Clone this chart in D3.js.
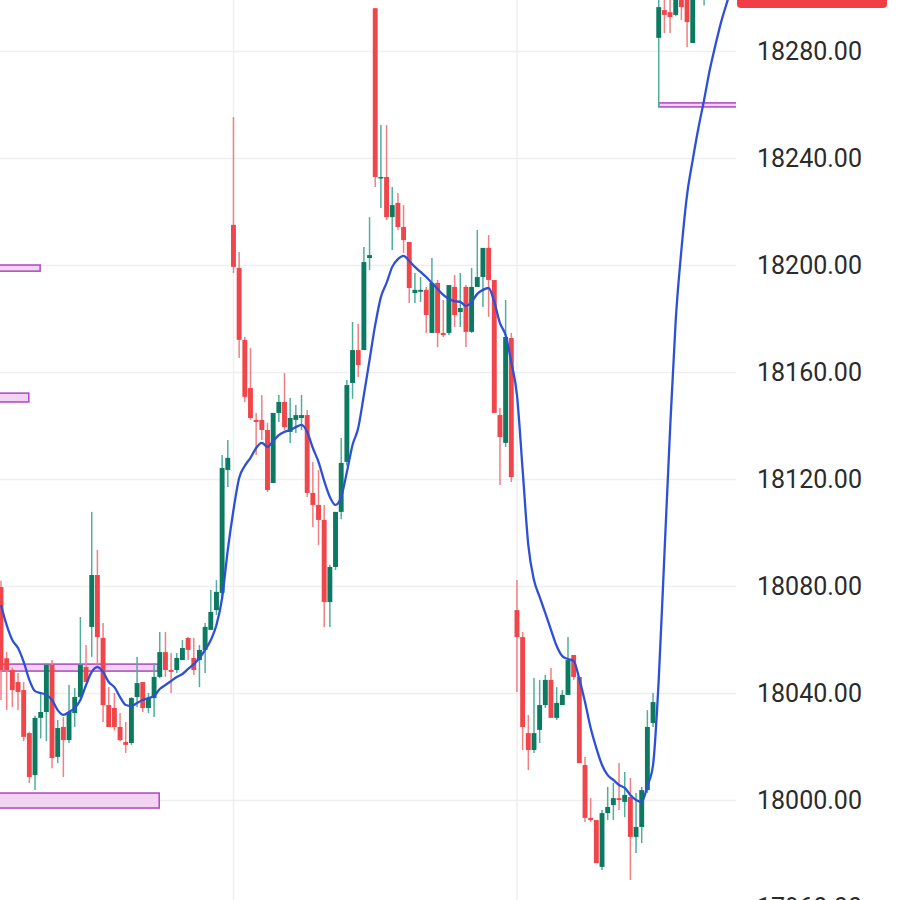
<!DOCTYPE html>
<html>
<head>
<meta charset="utf-8">
<script src="https://cdn.jsdelivr.net/npm/d3@7/dist/d3.min.js"></script>
<style>
  html, body { margin: 0; padding: 0; background: #ffffff; }
  svg { display: block; }
</style>
</head>
<body>
<div id="chart"></div>
<script>
// ---------- DATA ----------
const opens  = [18079.6,18053,18048.6,18044.1,18041.1,18025,18009.3,18030.7,18032.9,18050.5,18016.1,18027.3,18022.4,18032.5,18038.5,18049.7,18064.7,18084.1,18060.6,18035.5,18034.4,18027.3,18021.7,18021.3,18038.5,18044.1,18034.4,18038.1,18046,18055.3,18048.6,18048.6,18052.3,18060.6,18053.1,18052.3,18056.1,18063.6,18071,18077.4,18123.4,18215,18198.9,18172,18154,18142.1,18142.1,18138.3,18118.5,18144.7,18148.8,18137.6,18142.1,18142.8,18143.9,18114.8,18110.3,18104.7,18074,18087.1,18107.7,18126.4,18155.9,18168.2,18168.2,18202.6,18296,18232.5,18232.9,18217.9,18223.2,18214.2,18208.6,18189.5,18190,18190.7,18174.6,18193.3,18174.6,18174.6,18191.8,18182.4,18191.8,18175,18191.8,18195.5,18206.4,18194.4,18143.9,18133.5,18172.7,18071,18060.9,18025,18018.7,18026.2,18035.5,18044.9,18030.7,18035.5,18039.3,18054.2,18046,18013.1,17993.3,17992.5,17975,17995.1,17998.1,18000.7,17999.3,18001.1,17986.2,17989.9,18003.7,18028.8,18284.9,18295.3,18294.5,18293.5,18302,18302,18283,18305,18302,18308,18310,18312];
const highs  = [18082,18055.3,18049.5,18047.5,18044.1,18025.5,18031.5,18040,18051,18052.3,18029.9,18031,18043,18041.9,18068.4,18057.9,18107.7,18093.5,18066.2,18042.2,18040,18032.5,18029.2,18038.5,18053.5,18044.1,18040,18051.2,18062.8,18062.8,18055,18055,18059.8,18060.9,18060.6,18057.9,18066.2,18078.5,18082.2,18129,18134.6,18255.3,18204.9,18173.1,18169,18144.7,18151.4,18141,18144.7,18151.4,18159.6,18150.3,18147.7,18151.4,18145.8,18126.4,18123.4,18110.3,18087.9,18107.7,18135.3,18157,18178.7,18178,18206.7,18217.9,18296,18252.3,18252.3,18229.2,18226.9,18222.4,18208.6,18197,18195.5,18191.8,18202.6,18194.4,18186.9,18192.5,18196.3,18197,18192.5,18198.9,18213.1,18206.4,18211.2,18194.4,18146.5,18186.9,18174.6,18082.2,18062.8,18031.8,18045.6,18044.9,18046.7,18049.3,18042.2,18041.1,18060.9,18054.2,18046,18016.1,18000.7,17992.5,17996.3,18004.9,18006.4,18013.8,18010.5,18008.2,18002.6,18004.9,18033.6,18040,18300,18300,18300,18303,18305,18305,18305,18310,18310,18314,18316,18318];
const lows   = [18037.4,18033.6,18034.8,18033.6,18022,18006.4,18003.7,18023,18022,18011.9,18013.8,18008.6,18021.3,18027.3,18037.4,18044.1,18053.5,18049.7,18029.2,18027.3,18026,18022,18017.6,18020.6,18034.8,18032.9,18032.5,18031,18045.5,18046,18040,18047.5,18052.3,18052.3,18046.7,18042.2,18047.5,18063.6,18069.2,18074.8,18117,18197,18165.2,18148.8,18142.1,18129,18134.6,18115.1,18118.5,18141.3,18138.3,18133.5,18137.2,18138.3,18113.3,18102.1,18095.3,18064.7,18064.7,18086,18105,18125,18150,18158,18168.2,18198.1,18229.2,18221.3,18216.8,18205.6,18213.1,18204.5,18185.8,18185.8,18186.2,18174.6,18174.6,18169.3,18173.1,18173.8,18176.8,18176.8,18169.3,18174.6,18191.8,18184.3,18180.6,18144.7,18117.8,18132,18118.9,18040.4,18018.7,18011.2,18017.6,18021.3,18034.4,18030.7,18029.9,18035.5,18039.3,18044.9,18013.8,17991.8,17991.8,17976.4,17973.8,17992.5,17992.5,17996.3,17993.6,17970.1,17980.2,17983.9,18002.6,18027.3,18259.1,18286.7,18286.7,18293,18291.6,18281.5,18283,18302,18297,18305,18306,18308];
const closes = [18048.6,18048.6,18041.1,18040.4,18023.6,18008.6,18030.7,18032.9,18050.5,18015.7,18026.9,18022.4,18032.9,18038.5,18050.5,18044.1,18084.1,18060.9,18035.5,18027.3,18027.3,18022.4,18020.6,18038.1,18043.7,18034.4,18038.1,18046,18055.3,18048.6,18047.9,18053.1,18056.8,18056.1,18048.6,18056.1,18064.7,18070.3,18077.8,18124.1,18127.9,18199.3,18172,18150.7,18142.8,18141.3,18138.3,18115.9,18144.7,18148.8,18139.4,18142.8,18143.9,18143.9,18114.8,18110.3,18104.7,18074,18087.1,18107.7,18126,18155.1,18168.2,18162.6,18201.1,18203.7,18232.9,18232.9,18217.9,18222.4,18214.2,18209.3,18191.4,18190.7,18190.7,18181.3,18193.3,18174.6,18173.8,18192.5,18181.3,18183.9,18175,18191.8,18195.5,18206.4,18194.4,18144.7,18135.7,18173.1,18120.7,18060.9,18027.3,18018.7,18025,18035.5,18044.9,18030.7,18036.3,18039.3,18052.3,18046,18013.8,17993.3,17992.5,17976.4,17995.1,17997.4,18000.7,18000,18001.9,17986.2,17989.9,18003.7,18027.3,18036.6,18296.4,18293.5,18292.7,18301,18296.4,18290.8,18302,18308,18308,18310,18312,18314];
const maValues = [18072.9,18065.4,18059.8,18056.8,18051.6,18044.9,18040.7,18040,18039.3,18037.4,18033.6,18031.8,18032.9,18034.4,18037.4,18043,18047.9,18049.7,18047.9,18044.1,18042.2,18038.5,18035.5,18035.1,18036.3,18037.4,18038.1,18038.9,18041.5,18043,18044.5,18046,18047.1,18049,18050.8,18053.1,18056.1,18059.8,18065.4,18075.5,18093.5,18108.4,18120.4,18124.9,18127.9,18131.6,18133.5,18132,18134.2,18136.4,18137.6,18138.3,18139.4,18140.2,18137.6,18131.6,18126.4,18119.3,18113.3,18110.3,18113.3,18122.6,18132.7,18139.1,18151.4,18164.5,18177.6,18188,18193.3,18199.3,18202.2,18203.4,18201.5,18199.3,18197.4,18195.5,18193.3,18191,18188.8,18187.3,18186.5,18186.2,18184.7,18186.2,18189.2,18190.7,18191.4,18186.2,18178.3,18173.8,18163.7,18151.4,18123.4,18095.3,18082.2,18075.9,18069.9,18063.6,18057.6,18053.8,18052.7,18052,18045.2,18036.6,18026.9,18019.4,18013.1,18009.3,18007.5,18005.6,18004.5,18001.9,18000,17999.3,18005.2,18013.1,18044.9,18091.6,18138.3,18179.4,18205.6,18226.2,18239.3,18251.2,18261.7,18272.9,18282.2,18290.8,18297.9,18304.7];
const tickValues = [17960, 18000, 18040, 18080, 18120, 18160, 18200, 18240, 18280];
const sessionStarts = [41, 91];
// zones: [fromIndex, toIndex, upperPrice, lowerPrice]
const zoneFrom  = [-1, -1, -1, -1, 116];
const zoneTo    = [6.9, 4.9, 27.7, 27.9, 130];
const zoneHigh  = [18200.0, 18152.1, 18050.8, 18002.6, 18260.6];
const zoneLow   = [18197.7, 18148.8, 18048.2, 17997.0, 18259.1];

// ---------- LAYOUT ----------
const W = 900, H = 900;
const plotRight = 736;
const svg = d3.select("#chart").append("svg").attr("width", W).attr("height", H);

const x = d3.scaleLinear().domain([0, 129]).range([1, 1 + 129 * 5.67]);
const y = d3.scaleLinear().domain([18000, 18280]).range([800, 51]);

svg.append("defs").append("clipPath").attr("id", "plotclip")
  .append("rect").attr("x", 0).attr("y", 0).attr("width", plotRight).attr("height", H);

// grid
const grid = svg.append("g");
grid.selectAll("line.h").data(tickValues).enter().append("line")
  .attr("x1", 0).attr("x2", plotRight)
  .attr("y1", d => Math.round(y(d)) + 0.5).attr("y2", d => Math.round(y(d)) + 0.5)
  .attr("stroke", "#efefef").attr("stroke-width", 1.5);
grid.selectAll("line.v").data(sessionStarts).enter().append("line")
  .attr("x1", d => x(d)).attr("x2", d => x(d))
  .attr("y1", 0).attr("y2", H)
  .attr("stroke", "#efefef").attr("stroke-width", 1.5);

const plot = svg.append("g").attr("clip-path", "url(#plotclip)");

// zones
const zones = zoneFrom.map((f, i) => ({ f, t: zoneTo[i], hi: zoneHigh[i], lo: zoneLow[i] }));
plot.selectAll("rect.zone").data(zones).enter().append("rect")
  .attr("x", d => x(d.f)).attr("width", d => x(d.t) - x(d.f))
  .attr("y", d => y(d.hi)).attr("height", d => Math.max(2, y(d.lo) - y(d.hi)))
  .attr("fill", "#f3d3f4").attr("stroke", "#b24fc6").attr("stroke-width", 1.6);

// candles
const candles = opens.map((o, i) => ({ i, o, h: highs[i], l: lows[i], c: closes[i] }));
const up = d => d.c >= d.o;
const g = plot.append("g");
g.selectAll("line.wick").data(candles).enter().append("line")
  .attr("x1", d => x(d.i)).attr("x2", d => x(d.i))
  .attr("y1", d => y(d.h)).attr("y2", d => y(d.l))
  .attr("stroke", d => up(d) ? "#4fae9c" : "#f27f83").attr("stroke-width", 1.5);
const bw = 4.9;
g.selectAll("rect.body").data(candles).enter().append("rect")
  .attr("x", d => x(d.i) - bw / 2).attr("width", bw)
  .attr("y", d => y(Math.max(d.o, d.c)))
  .attr("height", d => Math.max(1.5, Math.abs(y(d.o) - y(d.c))))
  .attr("fill", d => up(d) ? "#0c7a61" : "#f0464b");

// moving average
const line = d3.line().x((d, i) => x(i)).y(d => y(d)).curve(d3.curveMonotoneX);
plot.append("path").datum(maValues)
  .attr("d", line).attr("fill", "none")
  .attr("stroke", "#2e50d6").attr("stroke-width", 2.3);

// right axis labels
const axis = d3.axisRight(y).tickValues(tickValues).tickFormat(d3.format(".2f")).tickSize(0).tickPadding(0);
const ag = svg.append("g").attr("transform", `translate(757,0)`).call(axis);
ag.select(".domain").remove();
ag.selectAll("text")
  .attr("font-family", "Roboto, 'Noto Sans', sans-serif")
  .attr("font-size", 25).attr("fill", "#2b2b2b");

// last price label (cut off at top)
svg.append("rect").attr("x", 737).attr("y", -20).attr("width", 150).attr("height", 28)
  .attr("rx", 4).attr("fill", "#f23d46");
</script>
</body>
</html>
